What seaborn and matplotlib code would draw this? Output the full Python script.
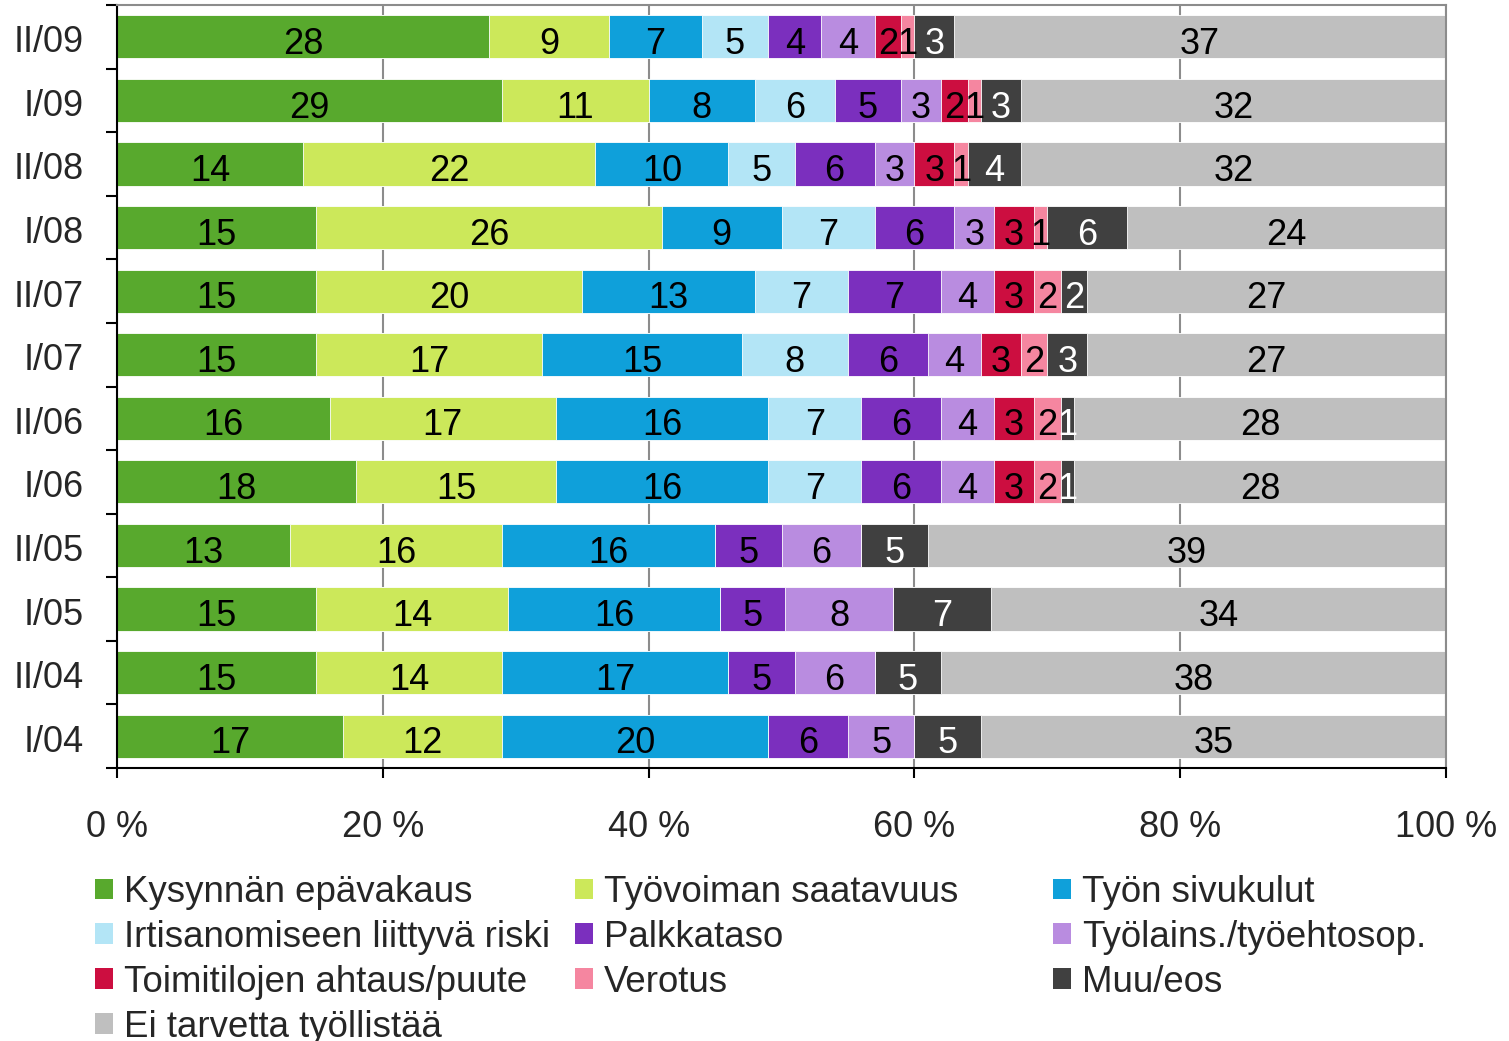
import numpy as np
import pandas as pd
import seaborn as sns
import matplotlib.pyplot as plt
from matplotlib.patches import Patch

periods = ['II/09', 'I/09', 'II/08', 'I/08', 'II/07', 'I/07',
           'II/06', 'I/06', 'II/05', 'I/05', 'II/04', 'I/04']

kysynta = [28, 29, 14, 15, 15, 15, 16, 18, 13, 15, 15, 17]
tyovoima = [9, 11, 22, 26, 20, 17, 17, 15, 16, 14.4, 14, 12]
sivukulut = [7, 8, 10, 9, 13, 15, 16, 16, 16, 16, 17, 20]
irtisanominen = [5, 6, 5, 7, 7, 8, 7, 7, 0, 0, 0, 0]
palkkataso = [4, 5, 6, 6, 7, 6, 6, 6, 5, 4.9, 5, 6]
tyolains = [4, 3, 3, 3, 4, 4, 4, 4, 6, 8.1, 6, 5]
toimitilat = [2, 2, 3, 3, 3, 3, 3, 3, 0, 0, 0, 0]
verotus = [1, 1, 1, 1, 2, 2, 2, 2, 0, 0, 0, 0]
muu = [3, 3, 4, 6, 2, 3, 1, 1, 5, 7.4, 5, 5]
ei_tarvetta = [37, 32, 32, 24, 27, 27, 28, 28, 39, 34.2, 38, 35]

categories = ['Kysynnän epävakaus', 'Työvoiman saatavuus', 'Työn sivukulut',
              'Irtisanomiseen liittyvä riski', 'Palkkataso', 'Työlains./työehtosop.',
              'Toimitilojen ahtaus/puute', 'Verotus', 'Muu/eos', 'Ei tarvetta työllistää']
colors = ['#58A92D', '#CCE85A', '#0FA0DA', '#B3E5F6', '#7B2FBE',
          '#B98CE0', '#CC0E40', '#F586A0', '#404040', '#BFBFBF']

xticks = [0, 20, 40, 60, 80, 100]
xtick_labels = ['0 %', '20 %', '40 %', '60 %', '80 %', '100 %']

sns.set_style('white')
plt.rcParams['font.family'] = ['Liberation Sans', 'DejaVu Sans']

df = pd.DataFrame(dict(zip(categories, [kysynta, tyovoima, sivukulut, irtisanominen,
                                        palkkataso, tyolains, toimitilat, verotus,
                                        muu, ei_tarvetta])), index=periods)
cum = df.cumsum(axis=1)

W, H = 1509, 1041
fig = plt.figure(figsize=(W / 100, H / 100), dpi=100)
ax = fig.add_axes([117 / W, 1 - 768 / H, (1446 - 117) / W, (768 - 5) / H])

# stacked look: draw cumulative totals from the last category back to the first
for cat, col in reversed(list(zip(categories, colors))):
    sns.barplot(x=cum[cat].values, y=periods, orient='h', color=col, saturation=1,
                width=0.68, errorbar=None, edgecolor='white', linewidth=0.6, ax=ax)

# segment labels
for i, per in enumerate(periods):
    for cat in categories:
        v = df.loc[per, cat]
        if v <= 0:
            continue
        mid = cum.loc[per, cat] - v / 2
        ax.text(mid, i + 0.27, str(int(round(v))), ha='center', va='baseline',
                fontsize=26, color='white' if cat == 'Muu/eos' else 'black')

ax.set_xlim(0, 100)
ax.set_xticks(xticks)
ax.set_xticklabels(xtick_labels)
ax.set_xlabel('')
ax.set_ylabel('')
ax.set_ylim(11.5, -0.5)

ax.xaxis.grid(True, color='#8c8c8c', linewidth=1.5)
ax.yaxis.grid(False)
ax.set_axisbelow(True)

ax.tick_params(axis='x', bottom=True, length=7.5, width=1.5, color='black',
               labelsize=26, pad=22.5)
ax.set_yticks(range(len(periods)))
ax.set_yticklabels(periods)
ax.set_yticks(np.arange(-0.5, len(periods), 1), minor=True)
ax.tick_params(axis='y', which='major', left=False, length=0, labelsize=26, pad=24)
ax.tick_params(axis='y', which='minor', left=True, length=8, width=1.5, color='black')
for lbl in ax.get_yticklabels():
    lbl.set_y(lbl.get_position()[1])
    lbl.set_transform(lbl.get_transform() + plt.matplotlib.transforms.ScaledTranslation(0, -2 / 100, fig.dpi_scale_trans))

for side in ['left', 'bottom']:
    ax.spines[side].set_color('black')
    ax.spines[side].set_linewidth(1.5)
for side in ['top', 'right']:
    ax.spines[side].set_color('#8c8c8c')
    ax.spines[side].set_linewidth(1.5)

# legend: three columns laid out row by row like the original
handles = [Patch(facecolor=c, edgecolor='none') for c in colors]
col_items = [[0, 3, 6, 9], [1, 4, 7], [2, 5, 8]]
col_x = [95, 575, 1053]
for items, x in zip(col_items, col_x):
    fig.legend([handles[k] for k in items], [categories[k] for k in items],
               loc='upper left', bbox_to_anchor=(x / W, 1 - 875 / H),
               frameon=False, fontsize=26.4, borderpad=0, borderaxespad=0,
               handlelength=0.5, handleheight=0.5, handletextpad=0.3,
               labelspacing=0.27)

fig.savefig('out.png', dpi=100)
